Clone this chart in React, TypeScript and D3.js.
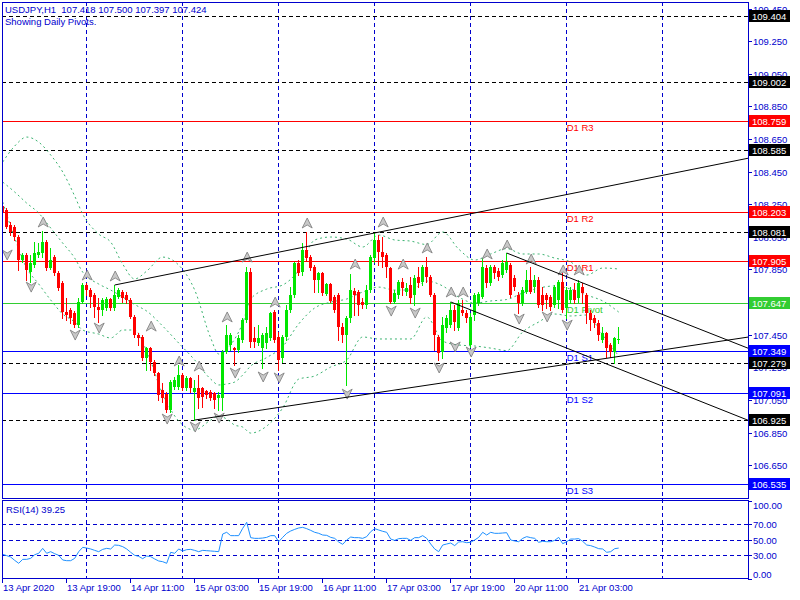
import React from "react";
import * as d3 from "d3";

// ---------- DATA ----------
const symbolTitle = "USDJPY,H1  107.418 107.500 107.397 107.424";
const subTitle = "Showing Daily Pivots.";
const rsiTitle = "RSI(14) 39.25";

const candleOpen = [108.239,108.215,108.123,108.110,108.049,107.908,107.939,107.835,107.878,107.939,107.951,108.019,107.859,107.927,107.829,107.767,107.589,107.602,107.583,107.510,107.651,107.755,107.724,107.694,107.620,107.602,107.614,107.669,107.614,107.681,107.712,107.694,107.663,107.559,107.448,107.436,107.307,107.369,107.283,107.215,107.111,107.087,106.989,107.130,107.130,107.203,107.123,107.185,107.099,107.123,107.123,107.105,107.099,107.093,107.062,107.062,107.344,107.387,107.369,107.356,107.418,107.540,107.835,107.430,107.399,107.369,107.399,107.430,107.589,107.436,107.307,107.436,107.602,107.694,107.890,107.835,107.969,107.927,107.865,107.786,107.829,107.700,107.761,107.681,107.694,107.497,107.448,107.553,107.718,107.712,107.651,107.632,107.724,107.920,108.031,107.957,107.939,107.859,107.651,107.694,107.773,107.712,107.755,107.694,107.804,107.773,107.865,107.804,107.694,107.436,107.344,107.491,107.510,107.602,107.491,107.602,107.583,107.387,107.571,107.645,107.681,107.859,107.767,107.865,107.841,107.816,107.847,107.878,107.798,107.694,107.645,107.712,107.786,107.743,107.786,107.694,107.694,107.681,107.632,107.663,107.773,107.614,107.663,107.724,107.675,107.743,107.694,107.583,107.553,107.522,107.418,107.461,107.387,107.344,107.418];
const candleHigh = [108.258,108.227,108.141,108.123,108.061,107.951,107.951,107.939,108.019,108.012,108.086,108.031,107.982,107.939,107.841,107.779,107.675,107.614,107.596,107.675,107.767,107.767,107.737,107.706,107.675,107.675,107.681,107.675,107.755,107.737,107.724,107.712,107.675,107.571,107.461,107.448,107.375,107.375,107.295,107.222,107.154,107.099,107.172,107.191,107.264,107.215,107.197,107.191,107.172,107.203,107.130,107.111,107.111,107.099,107.099,107.356,107.510,107.461,107.375,107.448,107.553,107.865,107.859,107.497,107.510,107.461,107.497,107.589,107.602,107.467,107.448,107.632,107.743,107.896,107.908,108.012,108.080,107.939,107.878,107.835,107.835,107.767,107.767,107.694,107.706,107.522,107.565,107.822,107.737,107.724,107.675,107.755,107.939,108.074,108.061,108.049,107.951,107.865,107.724,107.786,107.798,107.767,107.804,107.816,107.865,107.878,107.927,107.816,107.706,107.448,107.559,107.571,107.651,107.632,107.663,107.663,107.602,107.583,107.706,107.712,107.920,107.878,107.878,107.878,107.859,107.908,107.951,107.890,107.816,107.712,107.743,107.847,107.865,107.816,107.804,107.743,107.706,107.694,107.755,107.786,107.829,107.743,107.743,107.767,107.786,107.767,107.706,107.602,107.571,107.540,107.497,107.467,107.399,107.436,107.500];
const candleLow = [108.190,108.104,108.061,108.031,107.847,107.896,107.786,107.773,107.865,107.927,107.927,107.847,107.853,107.816,107.724,107.553,107.540,107.522,107.497,107.497,107.645,107.694,107.620,107.559,107.528,107.571,107.602,107.602,107.602,107.675,107.651,107.645,107.553,107.436,107.387,107.295,107.234,107.234,107.203,107.050,107.038,106.976,106.976,107.117,107.117,107.111,107.111,107.099,106.927,107.001,107.007,107.062,107.050,107.001,106.989,106.989,107.338,107.356,107.264,107.344,107.406,107.528,107.375,107.375,107.387,107.246,107.369,107.418,107.406,107.234,107.283,107.418,107.589,107.681,107.816,107.816,107.908,107.847,107.712,107.712,107.694,107.694,107.651,107.589,107.418,107.406,107.142,107.528,107.571,107.571,107.614,107.614,107.712,107.896,107.878,107.865,107.804,107.645,107.645,107.675,107.694,107.694,107.645,107.632,107.743,107.755,107.773,107.688,107.356,107.295,107.307,107.467,107.497,107.479,107.479,107.571,107.528,107.375,107.540,107.632,107.675,107.743,107.755,107.798,107.786,107.804,107.835,107.681,107.724,107.583,107.632,107.706,107.706,107.712,107.620,107.602,107.614,107.602,107.620,107.614,107.589,107.553,107.645,107.645,107.651,107.645,107.522,107.479,107.497,107.418,107.406,107.313,107.313,107.277,107.397];
const candleClose = [108.202,108.110,108.080,108.049,107.908,107.939,107.847,107.890,107.951,107.957,108.019,107.859,107.908,107.829,107.737,107.589,107.571,107.553,107.510,107.651,107.755,107.724,107.681,107.620,107.602,107.663,107.669,107.614,107.694,107.724,107.675,107.663,107.559,107.448,107.430,107.307,107.369,107.283,107.215,107.080,107.062,106.989,107.160,107.172,107.203,107.123,107.185,107.123,107.123,107.062,107.068,107.080,107.062,107.050,107.080,107.344,107.448,107.448,107.356,107.430,107.540,107.835,107.406,107.406,107.430,107.448,107.461,107.583,107.418,107.295,107.436,107.602,107.694,107.890,107.829,107.969,107.920,107.859,107.786,107.829,107.706,107.761,107.657,107.602,107.497,107.448,107.553,107.724,107.694,107.632,107.632,107.724,107.927,108.031,107.957,107.927,107.865,107.651,107.706,107.773,107.737,107.737,107.675,107.798,107.767,107.865,107.804,107.694,107.448,107.338,107.510,107.553,107.602,107.528,107.645,107.583,107.553,107.559,107.694,107.700,107.865,107.767,107.865,107.829,107.804,107.890,107.896,107.694,107.743,107.645,107.724,107.786,107.712,107.786,107.632,107.632,107.663,107.620,107.743,107.773,107.602,107.724,107.724,107.663,107.767,107.706,107.583,107.540,107.522,107.448,107.461,107.369,107.344,107.430,107.424];

const rsiValues = [31.2,29.5,27.7,23.4,19.6,24.7,24.7,26.0,30.7,32.5,38.9,32.5,34.6,32.0,29.9,23.9,23.0,23.0,26.0,34.6,40.2,39.3,38.1,36.3,34.6,37.6,38.9,38.1,43.2,42.8,41.1,38.1,33.8,29.9,28.6,25.6,29.0,28.2,25.2,22.6,21.7,19.6,33.8,32.5,38.1,35.5,37.2,37.6,36.3,34.6,36.3,35.9,35.5,35.1,34.6,57.4,59.6,55.3,55.3,55.3,64.7,72.5,52.7,51.8,51.8,52.2,53.1,55.3,55.3,47.5,53.1,58.3,61.3,63.4,65.2,66.0,64.3,62.1,59.6,58.3,56.1,55.7,53.1,51.8,47.1,44.1,49.7,53.5,52.7,52.7,51.8,54.0,60.4,64.3,62.6,60.9,59.6,50.9,49.2,51.4,51.8,51.8,49.2,52.7,52.7,55.3,51.8,44.5,38.1,34.6,43.2,44.5,45.8,42.4,47.1,47.5,46.2,46.7,49.7,53.1,59.6,56.1,59.6,58.3,58.3,58.7,59.1,49.7,48.4,47.5,51.8,54.0,52.7,51.8,46.7,48.0,47.5,47.5,49.2,53.1,44.9,47.5,50.9,50.9,51.4,48.0,43.2,42.4,40.6,38.5,38.1,33.8,34.6,38.5,39.25];

// Bollinger bands at these bars
const bbBars = [0,3,6,9,12,15,18,20,24,27,30,33,36,40,44,48,52,54,56,58,60,62,66,70,74,78,82,86,90,94,98,102,106,110,114,118,122,126,130,134,138,142,146,150,154];
const bbUpper = [108.509,108.607,108.662,108.631,108.552,108.448,108.300,108.190,108.067,108.018,107.883,107.792,107.840,107.926,107.877,107.724,107.430,107.332,107.362,107.424,107.522,107.669,107.730,107.755,107.847,108.031,108.049,108.037,107.988,108.061,108.031,108.024,108.003,108.080,107.975,107.908,107.945,107.978,107.945,107.945,107.920,107.896,107.816,107.859,107.853];
const bbMiddle = [108.386,108.325,108.257,108.196,108.104,108.012,107.920,107.834,107.761,107.724,107.681,107.635,107.595,107.503,107.399,107.295,107.178,107.142,107.148,107.160,107.203,107.258,107.310,107.378,107.516,107.614,107.650,107.669,107.712,107.742,107.724,107.724,107.779,107.749,107.681,107.644,107.657,107.666,107.706,107.736,107.749,107.730,107.693,107.657,107.589];
const bbLower = [108.264,108.043,107.859,107.761,107.663,107.577,107.528,107.479,107.454,107.430,107.479,107.479,107.350,107.086,106.921,106.866,106.927,106.952,106.933,106.896,106.884,106.847,106.890,107.001,107.178,107.197,107.252,107.295,107.436,107.424,107.424,107.424,107.559,107.411,107.387,107.381,107.368,107.353,107.467,107.528,107.577,107.565,107.571,107.448,107.319];

const fractalUpBars = [10,21,28,37,44,49,56,61,68,76,88,95,100,106,112,115,121,126,132,140,144];
const fractalUpPrices = [108.141,107.816,107.810,107.503,107.289,107.258,107.559,107.926,107.650,108.135,107.883,108.141,107.883,107.982,107.712,107.712,107.945,108.000,107.914,107.847,107.847];
const fractalDownBars = [1,7,18,24,41,48,54,58,65,69,86,97,103,109,113,117,129,136,141];
const fractalDownPrices = [107.939,107.742,107.448,107.491,106.933,106.884,106.939,107.215,107.191,107.185,107.086,107.595,107.583,107.246,107.375,107.344,107.546,107.559,107.509];

const levelValues = [109.404,109.002,108.759,108.585,108.203,108.081,107.905,107.647,107.349,107.279,107.091,106.925,106.535];
const levelKinds = ["W","W","R","W","R","W","R","P","S","W","S","W","S"];
const levelNames = ["","","D1 R3","","D1 R2","","D1 R1","D1 Pivot","D1 S1","","D1 S2","","D1 S3"];

const trendStartBar = [28,48,126,112];
const trendStartPrice = [107.755,106.927,107.951,107.651];
const trendEndBar = [190,190,190,190];
const trendEndPrice = [108.550,107.449,107.332,106.890];

const priceTicks = [109.45,109.25,109.05,108.85,108.65,108.45,108.25,108.05,107.85,107.65,107.45,107.25,107.05,106.85,106.65];
const rsiTicks = [100,70,50,30,0];
const timeTickBars = [0,16,32,48,64,80,96,112,128,144];
const timeTickLabels = ["13 Apr 2020","13 Apr 19:00","14 Apr 11:00","15 Apr 03:00","15 Apr 19:00","16 Apr 11:00","17 Apr 03:00","17 Apr 19:00","20 Apr 11:00","21 Apr 03:00"];
const dayStartBars = [21,45,69,93,117,141,165];
const pivotLabelBar = 141;

// ---------- STYLE ----------
const FONT = "'Liberation Sans', Arial, sans-serif";
const BLUE = "#0000cd";
const BULL = "#00e600";
const BEAR = "#ff0000";
const BAND = "#3cb371";
const levelColor: Record<string, string> = { W: "#000000", R: "#ff0000", P: "#32cd32", S: "#0000ff" };

const L = 2, R = 748, MT = 2, MB = 498, RT = 500, RB = 578;

export default function App() {
  const x = d3.scaleLinear().domain([0, 100]).range([2.7, 402.7]);
  const y = d3.scaleLinear().domain([106.449, 109.49]).range([MB, MT]);
  const yr = d3.scaleLinear().domain([0, 100]).range([578.5, 501]);
  const px = (i: number) => Math.floor(x(i));
  const py = (v: number) => Math.round(y(v)) + 0.5;

  const bandLine = d3
    .line<number>()
    .x((_, k) => x(bbBars[k]))
    .y((v) => y(v))
    .curve(d3.curveMonotoneX);
  const rsiLine = d3
    .line<number>()
    .x((_, k) => x(k))
    .y((v) => yr(v));

  const upPath = "M0,-5 L5,5 L0,2 L-5,5 Z";
  const downPath = "M0,5 L5,-5 L0,-2 L-5,-5 Z";

  return (
    <div style={{ position: "fixed", left: 0, top: 0, width: 800, height: 600, background: "#fff" }}>
      <svg width={800} height={600} style={{ display: "block", fontFamily: FONT }}>
        <defs>
          <clipPath id="mainClip">
            <rect x={L} y={MT} width={R - L} height={MB - MT} />
          </clipPath>
          <clipPath id="rsiClip">
            <rect x={L} y={RT} width={R - L} height={RB - RT} />
          </clipPath>
        </defs>
        <rect x={0} y={0} width={800} height={600} fill="#fff" />

        {/* vertical grid */}
        {dayStartBars.map((b, k) => (
          <line key={"vg" + k} x1={px(b) + 0.5} x2={px(b) + 0.5} y1={MT} y2={RB} stroke={BLUE} strokeDasharray="4,3" strokeWidth={1} />
        ))}

        {/* RSI grid */}
        {[70, 50, 30].map((v, k) => (
          <line key={"rg" + k} x1={L} x2={R} y1={Math.round(yr(v)) + 0.5} y2={Math.round(yr(v)) + 0.5} stroke={BLUE} strokeDasharray="4,3" />
        ))}

        <g clipPath="url(#mainClip)">
          {/* horizontal level lines */}
          {levelValues.map((v, k) => (
            <line
              key={"lv" + k}
              x1={L}
              x2={R}
              y1={py(v)}
              y2={py(v)}
              stroke={levelColor[levelKinds[k]]}
              strokeWidth={1}
              strokeDasharray={levelKinds[k] === "W" ? "4,3" : undefined}
            />
          ))}
          {levelNames.map((n, k) =>
            n ? (
              <text key={"ln" + k} x={x(pivotLabelBar)} y={py(levelValues[k]) + 9} fontSize={9.5} fill={levelColor[levelKinds[k]]}>
                {n}
              </text>
            ) : null
          )}

          {/* Bollinger bands */}
          {[bbUpper, bbMiddle, bbLower].map((arr, k) => (
            <path key={"bb" + k} d={bandLine(arr) || ""} fill="none" stroke={BAND} strokeWidth={1} strokeDasharray="2,3" />
          ))}

          {/* candles */}
          {candleOpen.map((o, i) => {
            const c = candleClose[i];
            const up = c >= o;
            const col = up ? BULL : BEAR;
            const top = Math.round(y(Math.max(o, c)));
            const bot = Math.round(y(Math.min(o, c)));
            const cx = px(i);
            return (
              <g key={"c" + i}>
                <line x1={cx + 0.5} x2={cx + 0.5} y1={Math.round(y(candleHigh[i]))} y2={Math.round(y(candleLow[i])) + 1} stroke={col} strokeWidth={1} />
                <rect x={cx - 1} y={top} width={3} height={Math.max(1, bot - top)} fill={col} />
              </g>
            );
          })}

          {/* fractals */}
          {fractalUpBars.map((b, k) => (
            <path key={"fu" + k} d={upPath} transform={`translate(${x(b) + 0.5},${y(fractalUpPrices[k])})`} fill="#c8c8c8" stroke="#7a7a7a" strokeWidth={0.8} />
          ))}
          {fractalDownBars.map((b, k) => (
            <path key={"fd" + k} d={downPath} transform={`translate(${x(b) + 0.5},${y(fractalDownPrices[k])})`} fill="#c8c8c8" stroke="#7a7a7a" strokeWidth={0.8} />
          ))}

          {/* trend lines */}
          {trendStartBar.map((b, k) => (
            <line key={"tl" + k} x1={x(b)} y1={y(trendStartPrice[k])} x2={x(trendEndBar[k])} y2={y(trendEndPrice[k])} stroke="#000" strokeWidth={1} />
          ))}
        </g>

        {/* RSI line */}
        <g clipPath="url(#rsiClip)">
          <path d={rsiLine(rsiValues) || ""} fill="none" stroke="#1e90ff" strokeWidth={1} />
        </g>

        {/* frames */}
        <rect x={L + 0.5} y={MT + 0.5} width={R - L} height={MB - MT} fill="none" stroke={BLUE} strokeWidth={1} />
        <rect x={L + 0.5} y={RT + 0.5} width={R - L} height={RB - RT} fill="none" stroke={BLUE} strokeWidth={1} />

        {/* titles */}
        <text x={5} y={13} fontSize={9.5} fill={BLUE} xmlSpace="preserve" style={{ whiteSpace: "pre" }}>{symbolTitle}</text>
        <text x={5} y={25} fontSize={9.5} fill={BLUE}>{subTitle}</text>
        <text x={6} y={513} fontSize={9.5} fill={BLUE}>{rsiTitle}</text>

        {/* price axis */}
        {priceTicks.map((v, k) => (
          <g key={"pt" + k}>
            <line x1={R} x2={R + 4} y1={py(v)} y2={py(v)} stroke={BLUE} />
            <text x={R + 5} y={py(v) + 3.5} fontSize={9.5} fill={BLUE}>{v.toFixed(3)}</text>
          </g>
        ))}
        {levelValues.map((v, k) => (
          <g key={"pl" + k}>
            <rect x={R + 1} y={py(v) - 6.5} width={41} height={12} fill={levelColor[levelKinds[k]]} />
            <text x={R + 4} y={py(v) + 3.5} fontSize={9.5} fill="#fff">{v.toFixed(3)}</text>
          </g>
        ))}

        {/* RSI axis */}
        {rsiTicks.map((v, k) => {
          const yy = Math.round(yr(v)) + 0.5;
          const ty = v === 100 ? yy + 7 : v === 0 ? yy - 2 : yy + 3.5;
          return (
            <g key={"rt" + k}>
              <line x1={R} x2={R + 4} y1={yy} y2={yy} stroke={BLUE} />
              <text x={R + 5} y={ty} fontSize={9.5} fill={BLUE}>{v.toFixed(2)}</text>
            </g>
          );
        })}

        {/* time axis */}
        {timeTickBars.map((b, k) => (
          <g key={"tt" + k}>
            <line x1={px(b) + 0.5} x2={px(b) + 0.5} y1={RB} y2={RB + 5} stroke={BLUE} />
            <text x={px(b) + 1} y={591} fontSize={9.5} fill={BLUE}>{timeTickLabels[k]}</text>
          </g>
        ))}
      </svg>
    </div>
  );
}
